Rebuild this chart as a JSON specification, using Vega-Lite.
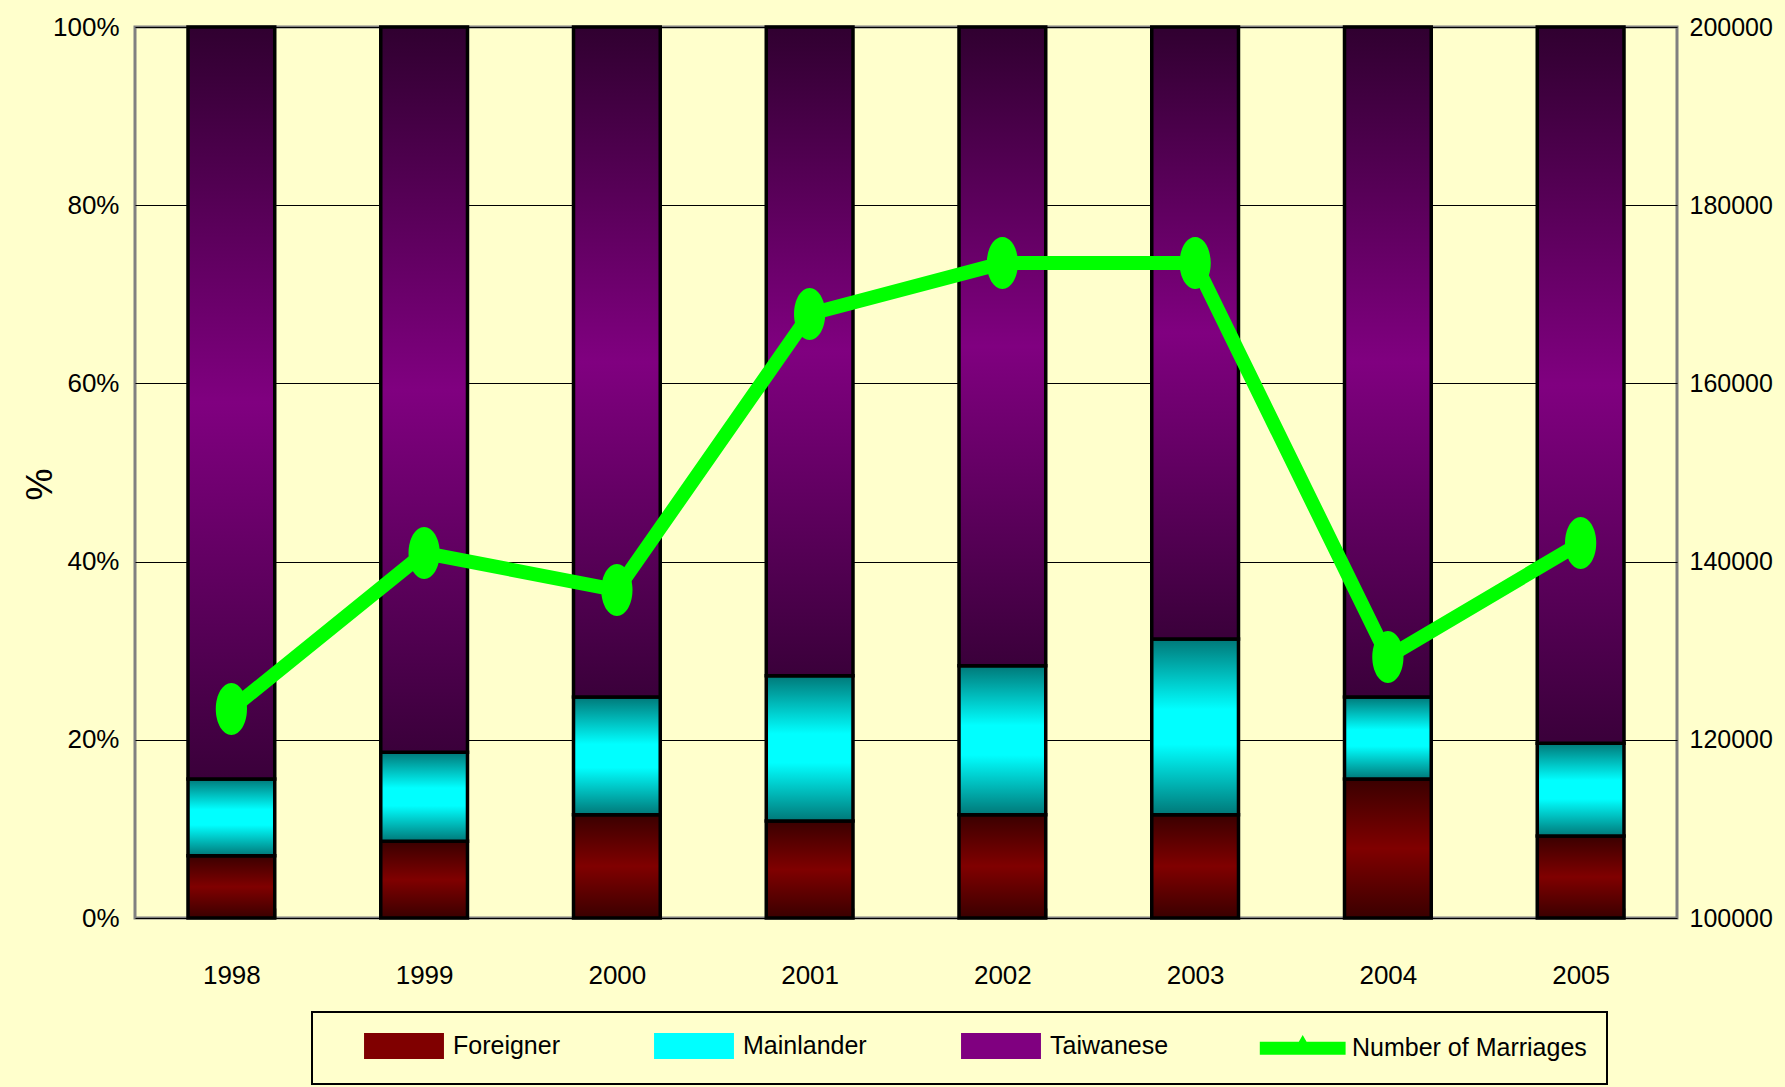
{
  "$schema": "https://vega.github.io/schema/vega-lite/v6.json",
  "width": 1542,
  "height": 891,
  "autosize": {"type": "none"},
  "padding": {"left": 135, "top": 27, "right": 108, "bottom": 169},
  "background": "#FFFFCC",
  "config": {
    "view": {"stroke": "#808080", "strokeWidth": 3, "fill": "#FFFFCC"},
    "font": "Liberation Sans, Arial, sans-serif",
    "axis": {
      "labelFont": "Liberation Sans, Arial, sans-serif",
      "labelColor": "#000000",
      "labelFontSize": 26
    }
  },
  "datasets": {
    "shares": [
      {"year": "1998", "group": "Foreigner", "pct": 7.0},
      {"year": "1998", "group": "Mainlander", "pct": 8.6},
      {"year": "1998", "group": "Taiwanese", "pct": 84.4},
      {"year": "1999", "group": "Foreigner", "pct": 8.6},
      {"year": "1999", "group": "Mainlander", "pct": 10.0},
      {"year": "1999", "group": "Taiwanese", "pct": 81.4},
      {"year": "2000", "group": "Foreigner", "pct": 11.6},
      {"year": "2000", "group": "Mainlander", "pct": 13.2},
      {"year": "2000", "group": "Taiwanese", "pct": 75.2},
      {"year": "2001", "group": "Foreigner", "pct": 10.9},
      {"year": "2001", "group": "Mainlander", "pct": 16.3},
      {"year": "2001", "group": "Taiwanese", "pct": 72.8},
      {"year": "2002", "group": "Foreigner", "pct": 11.6},
      {"year": "2002", "group": "Mainlander", "pct": 16.7},
      {"year": "2002", "group": "Taiwanese", "pct": 71.7},
      {"year": "2003", "group": "Foreigner", "pct": 11.6},
      {"year": "2003", "group": "Mainlander", "pct": 19.7},
      {"year": "2003", "group": "Taiwanese", "pct": 68.7},
      {"year": "2004", "group": "Foreigner", "pct": 15.6},
      {"year": "2004", "group": "Mainlander", "pct": 9.2},
      {"year": "2004", "group": "Taiwanese", "pct": 75.2},
      {"year": "2005", "group": "Foreigner", "pct": 9.2},
      {"year": "2005", "group": "Mainlander", "pct": 10.4},
      {"year": "2005", "group": "Taiwanese", "pct": 80.4}
    ],
    "marriages": [
      {"year": "1998", "marriages": 123460},
      {"year": "1999", "marriages": 140970},
      {"year": "2000", "marriages": 136810},
      {"year": "2001", "marriages": 167790},
      {"year": "2002", "marriages": 173500},
      {"year": "2003", "marriages": 173500},
      {"year": "2004", "marriages": 129290},
      {"year": "2005", "marriages": 142090}
    ]
  },
  "layer": [
    {
      "data": {"name": "shares"},
      "transform": [
        {"stack": "pct", "groupby": ["year"], "sort": [{"field": "group", "order": "ascending"}], "as": ["lo", "hi"]}
      ],
      "encoding": {
        "x": {
          "field": "year",
          "type": "nominal",
          "scale": {"paddingInner": 0.55, "paddingOuter": 0.275},
          "axis": {
            "title": null,
            "labelAngle": 0,
            "labelPadding": 54,
            "domain": false,
            "tickBand": "extent",
            "tickSize": -10,
            "tickColor": "#000000",
            "tickWidth": 1.5
          }
        },
        "y": {
          "field": "lo",
          "type": "quantitative",
          "scale": {"domain": [0, 100], "nice": false},
          "axis": {
            "title": "%",
            "titleFont": "Liberation Sans, Arial, sans-serif",
            "titleFontSize": 36,
            "titleFontWeight": "normal",
            "titleColor": "#000000",
            "titleX": -95,
            "titleY": 457,
            "titleAngle": -90,
            "titleAlign": "center",
            "titleBaseline": "middle",
            "values": [0, 20, 40, 60, 80, 100],
            "labelExpr": "datum.value + '%'",
            "labelPadding": 16,
            "ticks": false,
            "domain": false,
            "grid": true,
            "gridColor": "#000000",
            "gridWidth": 1
          }
        },
        "y2": {"field": "hi"}
      },
      "layer": [
        {
          "mark": {"type": "bar", "opacity": 0},
          "encoding": {
            "color": {
              "field": "group",
              "type": "nominal",
              "scale": {
                "domain": ["Foreigner", "Mainlander", "Taiwanese", "Number of Marriages"],
                "range": ["#800000", "#00ffff", "#800080", "#00ff00"]
              },
              "legend": {
                "orient": "none",
                "legendX": 177,
                "legendY": 985,
                "direction": "horizontal",
                "columns": 4,
                "title": null,
                "strokeColor": "#000000",
                "fillColor": "#FFFFCC",
                "padding": 20,
                "labelFont": "Liberation Sans, Arial, sans-serif",
                "labelFontSize": 25,
                "labelLimit": 0,
                "labelColor": "#000000",
                "labelOffset": 94,
                "columnPadding": 62,
                "symbolSize": 576,
                "symbolType": "M1.67,-0.96H8.08V0.96H1.67Z",
                "encode": {
                  "legend": {
                    "update": {
                      "stroke": {"value": "#000000"},
                      "strokeWidth": {"value": 2}
                    }
                  },
                  "symbols": {
                    "update": {
                      "shape": {"signal": "datum.value === 'Number of Marriages' ? 'M1.4,-0.42H8.3V0.42H1.4Z M4.6,-0.42L4.85,-0.85L5.1,-0.42Z' : 'M1.67,-0.96H8.08V0.96H1.67Z'"},
                      "fill": {"signal": "datum.value === 'Foreigner' ? {gradient: 'linear', x1: 0, y1: 0, x2: 0, y2: 1, stops: [{offset: 0, color: '#3a0000'}, {offset: 0.5, color: '#800000'}, {offset: 1, color: '#3a0000'}]} : datum.value === 'Mainlander' ? {gradient: 'linear', x1: 0, y1: 0, x2: 0, y2: 1, stops: [{offset: 0, color: '#007878'}, {offset: 0.4, color: '#00ffff'}, {offset: 0.6, color: '#00ffff'}, {offset: 1, color: '#007878'}]} : datum.value === 'Taiwanese' ? {gradient: 'linear', x1: 0, y1: 0, x2: 0, y2: 1, stops: [{offset: 0, color: '#300030'}, {offset: 0.5, color: '#800080'}, {offset: 1, color: '#3a003a'}]} : '#00ff00'"},
                      "fillOpacity": {"value": 1},
                      "stroke": {"signal": "datum.value === 'Number of Marriages' ? 'transparent' : '#000000'"},
                      "strokeWidth": {"value": 3},
                      "opacity": {"value": 1}
                    }
                  }
                }
              }
            }
          }
        },
        {
          "transform": [{"filter": "datum.group === 'Foreigner'"}],
          "mark": {
            "type": "bar", "stroke": "#000000", "strokeWidth": 3.5,
            "fill": {"gradient": "linear", "x1": 0, "y1": 0, "x2": 0, "y2": 1, "stops": [{"offset": 0, "color": "#3a0000"}, {"offset": 0.5, "color": "#800000"}, {"offset": 1, "color": "#3a0000"}]}
          }
        },
        {
          "transform": [{"filter": "datum.group === 'Mainlander'"}],
          "mark": {
            "type": "bar", "stroke": "#000000", "strokeWidth": 3.5,
            "fill": {"gradient": "linear", "x1": 0, "y1": 0, "x2": 0, "y2": 1, "stops": [{"offset": 0, "color": "#007878"}, {"offset": 0.4, "color": "#00ffff"}, {"offset": 0.6, "color": "#00ffff"}, {"offset": 1, "color": "#007878"}]}
          }
        },
        {
          "transform": [{"filter": "datum.group === 'Taiwanese'"}],
          "mark": {
            "type": "bar", "stroke": "#000000", "strokeWidth": 3.5,
            "fill": {"gradient": "linear", "x1": 0, "y1": 0, "x2": 0, "y2": 1, "stops": [{"offset": 0, "color": "#300030"}, {"offset": 0.5, "color": "#800080"}, {"offset": 1, "color": "#3a003a"}]}
          }
        }
      ]
    },
    {
      "data": {"name": "marriages"},
      "encoding": {
        "x": {"field": "year", "type": "nominal"},
        "y": {
          "field": "marriages",
          "type": "quantitative",
          "scale": {"domain": [100000, 200000], "nice": false},
          "axis": {
            "orient": "right",
            "title": null,
            "values": [100000, 120000, 140000, 160000, 180000, 200000],
            "format": "d",
            "labelFontSize": 25,
            "labelPadding": 12,
            "ticks": false,
            "domain": false,
            "grid": false
          }
        },
        "color": {"datum": "Number of Marriages"}
      },
      "layer": [
        {"mark": {"type": "line", "strokeWidth": 14, "strokeJoin": "round"}},
        {"mark": {"type": "point", "filled": true, "opacity": 1, "size": 2704, "shape": "M0,-1A0.6,1 0 1,1 0,1A0.6,1 0 1,1 0,-1Z"}}
      ]
    }
  ],
  "resolve": {"scale": {"y": "independent"}}
}
